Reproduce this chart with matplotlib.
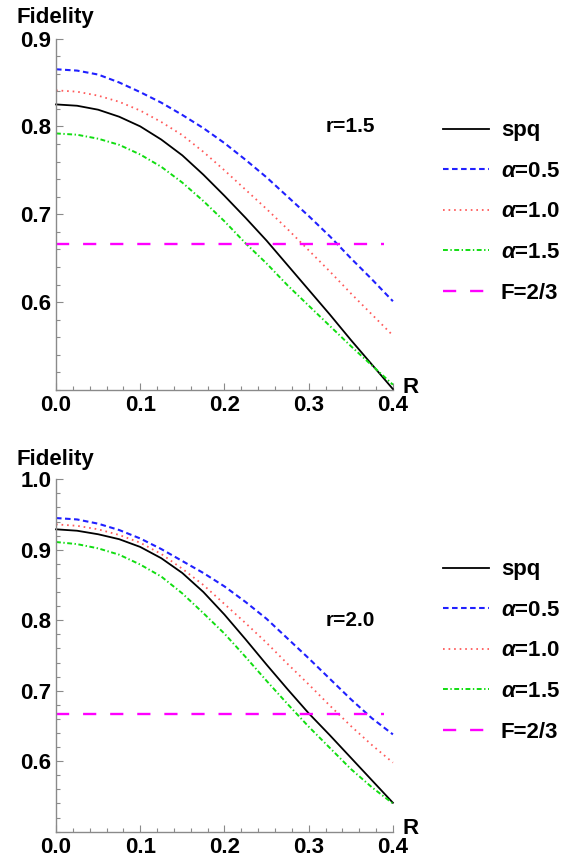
import matplotlib
matplotlib.use("Agg")
import matplotlib.pyplot as plt
from matplotlib.ticker import MultipleLocator, FixedLocator

plt.rcParams['font.family'] = ['Liberation Sans', 'DejaVu Sans']
plt.rcParams['font.weight'] = 'bold'
plt.rcParams['mathtext.fontset'] = 'custom'
plt.rcParams['mathtext.it'] = 'Liberation Sans:italic:bold'
plt.rcParams['mathtext.rm'] = 'Liberation Sans:bold'
plt.rcParams['lines.scale_dashes'] = False

# values, every 0.025 in R
R = [0.0, 0.025, 0.05, 0.075, 0.1, 0.125, 0.15, 0.175, 0.2,
     0.225, 0.25, 0.275, 0.3, 0.325, 0.35, 0.375, 0.4]

# r = 1.5
spq_15 = [0.825, 0.8235, 0.819, 0.811, 0.800, 0.785, 0.767, 0.745, 0.721,
          0.696, 0.670, 0.642, 0.614, 0.586, 0.557, 0.529, 0.501]
a05_15 = [0.865, 0.8635, 0.859, 0.850, 0.839, 0.827, 0.813, 0.798, 0.781,
          0.762, 0.742, 0.720, 0.698, 0.675, 0.650, 0.626, 0.601]
a10_15 = [0.841, 0.8395, 0.835, 0.828, 0.818, 0.805, 0.790, 0.771, 0.750,
          0.728, 0.706, 0.683, 0.659, 0.635, 0.610, 0.586, 0.562]
a15_15 = [0.792, 0.7905, 0.786, 0.779, 0.768, 0.754, 0.736, 0.715, 0.692,
          0.667, 0.644, 0.619, 0.596, 0.573, 0.550, 0.528, 0.506]

# r = 2.0
spq_20 = [0.929, 0.927, 0.922, 0.915, 0.904, 0.888, 0.867, 0.840, 0.808,
          0.773, 0.737, 0.702, 0.668, 0.637, 0.605, 0.573, 0.541]
a05_20 = [0.945, 0.943, 0.937, 0.928, 0.916, 0.901, 0.884, 0.867, 0.848,
          0.826, 0.802, 0.774, 0.746, 0.717, 0.688, 0.661, 0.638]
a10_20 = [0.936, 0.934, 0.929, 0.921, 0.910, 0.894, 0.873, 0.850, 0.823,
          0.796, 0.768, 0.738, 0.709, 0.679, 0.650, 0.623, 0.598]
a15_20 = [0.911, 0.908, 0.902, 0.893, 0.879, 0.862, 0.838, 0.810, 0.781,
          0.748, 0.714, 0.681, 0.649, 0.619, 0.589, 0.563, 0.540]

F_R = [0.0, 0.39]
F_val = [2 / 3, 2 / 3]

labels = ['spq', r'$\alpha$=0.5', r'$\alpha$=1.0', r'$\alpha$=1.5', 'F=2/3']

panels = [
    dict(curves=[spq_15, a05_15, a10_15, a15_15], ylim=(0.5, 0.9),
         yticks=[0.6, 0.7, 0.8, 0.9], tag='r=1.5',
         rect=[0.0979, 0.5455, 0.589, 0.4096], fid_y=0.9732, leg_y=0.753),
    dict(curves=[spq_20, a05_20, a10_20, a15_20], ylim=(0.5, 1.0),
         yticks=[0.6, 0.7, 0.8, 0.9, 1.0], tag='r=2.0',
         rect=[0.0979, 0.0307, 0.589, 0.4107], fid_y=0.458, leg_y=0.2413),
]

grey = '#8a8a8a'
fs = 16

fig = plt.figure(figsize=(5.72, 8.58), dpi=100)

for p in panels:
    ax = fig.add_axes(p['rect'])
    spq, a05, a10, a15 = p['curves']
    h = []
    h += ax.plot(R, spq, color='black', lw=1.3, clip_on=False)
    h += ax.plot(R, a05, color='#2020ff', lw=1.5, dashes=(4, 2.5), clip_on=False)
    h += ax.plot(R, a10, color='#ff5a5a', lw=1.3, dashes=(1.2, 2.8), clip_on=False)
    h += ax.plot(R, a15, color='#11dd11', lw=1.4, dashes=(3.5, 1.8, 1.0, 1.8), clip_on=False)
    h += ax.plot(F_R, F_val, color='#ff00ff', lw=1.7, dashes=(9.5, 10), clip_on=False)

    ax.set_xlim(0, 0.4)
    ax.set_ylim(*p['ylim'])
    ax.xaxis.set_major_locator(MultipleLocator(0.1))
    ax.xaxis.set_minor_locator(MultipleLocator(0.02))
    ax.yaxis.set_major_locator(FixedLocator(p['yticks']))
    ax.yaxis.set_minor_locator(MultipleLocator(0.02))
    ax.set_xticklabels([f'{v:.1f}' for v in ax.get_xticks()])
    ax.set_yticklabels([f'{v:.1f}' for v in p['yticks']])

    for s in ['top', 'right']:
        ax.spines[s].set_visible(False)
    for s in ['left', 'bottom']:
        ax.spines[s].set_color(grey)
        ax.spines[s].set_linewidth(1.0)
    ax.tick_params(which='both', direction='in', color=grey, width=0.8,
                   labelsize=fs)
    ax.tick_params(which='major', length=5)
    ax.tick_params(which='minor', length=2.8)
    ax.tick_params(axis='x', pad=3.5)
    ax.tick_params(axis='y', pad=3.5)

    ax.text(0.35, 0.8, p['tag'], fontsize=15, ha='center', va='center')
    ax.text(1.027, 0.008, 'R', transform=ax.transAxes, fontsize=fs,
            ha='left', va='center')
    fig.text(16 / 572, p['fid_y'], 'Fidelity', fontsize=fs, va='baseline')

    fig.legend(h, labels, loc='center left', bbox_to_anchor=(0.7745, p['leg_y']),
               frameon=False, fontsize=fs, handlelength=2.05, handletextpad=0.55,
               labelspacing=0.88, borderpad=0, borderaxespad=0)

fig.savefig('out.png', dpi=100)
